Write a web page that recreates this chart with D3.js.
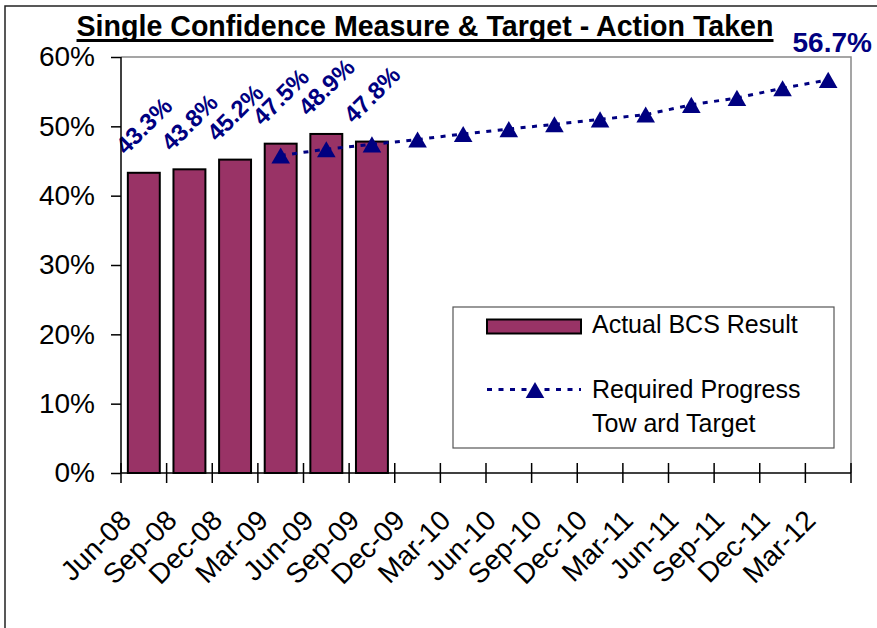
<!DOCTYPE html>
<html lang="en">
    <head>
        <meta charset="utf-8">
        <title>Single Confidence Measure &amp; Target</title>
        <script type="text/javascript" src="https://cdn.jsdelivr.net/npm/d3@7"></script>
        <style type="text/css">
            body { margin: 0; background: #fff; }
            svg text { font-family: Arial, "Liberation Sans", sans-serif; }
        </style>
    </head>
    <body>
        <script type="text/javascript">

        //Chart data
          var categories = ["Jun-08", "Sep-08", "Dec-08", "Mar-09", "Jun-09", "Sep-09", "Dec-09", "Mar-10",
                            "Jun-10", "Sep-10", "Dec-10", "Mar-11", "Jun-11", "Sep-11", "Dec-11", "Mar-12"];
          var actual = [43.3, 43.8, 45.2, 47.5, 48.9, 47.8];
          var required = [null, null, null, 45.8, 46.7, 47.4, 48.1, 48.9, 49.6, 50.3, 51.0, 51.7, 53.1, 54.1, 55.5, 56.7];
          var yTicks = [0, 10, 20, 30, 40, 50, 60];
          var seriesNames = ["Actual BCS Result", "Required Progress", "Tow ard Target"];
          var title = "Single Confidence Measure & Target - Action Taken";

          //Width and height
          var w = 877;
          var h = 628;
          var pLeft = 121, pRight = 851, pTop = 57, pBottom = 473;

          var barColor = "#993366";
          var navy = "#000080";

          var svg = d3.select("body")
                      .append("svg")
                      .attr("width", w)
                      .attr("height", h);

          //outer chart border
          svg.append("rect")
             .attr("x", 5)
             .attr("y", 6)
             .attr("width", w + 20)
             .attr("height", h + 20)
             .attr("fill", "#fff")
             .attr("stroke", "#222")
             .attr("stroke-width", 1.5);

          //Scales
          var xScale = d3.scaleBand()
                         .domain(categories)
                         .range([pLeft, pRight])
                         .paddingInner(0.3)
                         .paddingOuter(0.15);

          var yScale = d3.scaleLinear()
                         .domain([0, 60])
                         .range([pBottom, pTop]);

          var step = xScale.step();
          var edge = function(i) { return pLeft + i * step; };
          var center = function(c) { return xScale(c) + xScale.bandwidth() / 2; };

          //plot area frame (grey top / right)
          svg.append("path")
             .attr("d", "M" + pLeft + "," + pTop + "H" + pRight + "V" + pBottom)
             .attr("fill", "none")
             .attr("stroke", "#888")
             .attr("stroke-width", 1.5);

          //Bars
          svg.selectAll("rect.bar")
             .data(actual)
             .enter()
             .append("rect")
             .attr("class", "bar")
             .attr("x", function(d, i) { return xScale(categories[i]); })
             .attr("y", function(d) { return yScale(d); })
             .attr("width", xScale.bandwidth())
             .attr("height", function(d) { return yScale(0) - yScale(d); })
             .attr("fill", barColor)
             .attr("stroke", "#000")
             .attr("stroke-width", 2);

          //Bar labels, rotated
          svg.selectAll("text.barlabel")
             .data(actual)
             .enter()
             .append("text")
             .attr("class", "barlabel")
             .text(function(d) { return d.toFixed(1) + "%"; })
             .attr("transform", function(d, i) {
                 return "translate(" + center(categories[i]) + "," + (yScale(d) - 47) + ") rotate(-45)";
             })
             .attr("text-anchor", "middle")
             .attr("dy", "0.35em")
             .attr("font-size", "24px")
             .attr("font-weight", "bold")
             .attr("fill", navy);

          //Y axis
          var yAxis = d3.axisLeft(yScale)
                        .tickValues(yTicks)
                        .tickFormat(function(d) { return d + "%"; })
                        .tickSize(10)
                        .tickPadding(16);

          var gy = svg.append("g")
                      .attr("transform", "translate(" + pLeft + ",0)")
                      .call(yAxis);
          gy.select(".domain").remove();
          gy.selectAll("line").attr("stroke", "#000").attr("stroke-width", 1.5);
          gy.selectAll("text")
            .attr("font-size", "28px")
            .attr("font-family", "Arial, 'Liberation Sans', sans-serif")
            .attr("fill", "#000");

          svg.append("line")
             .attr("x1", pLeft).attr("x2", pLeft)
             .attr("y1", pTop).attr("y2", pBottom)
             .attr("stroke", "#000")
             .attr("stroke-width", 1.5);

          //X axis line and crossing ticks at category edges
          svg.append("line")
             .attr("x1", pLeft).attr("x2", pRight)
             .attr("y1", pBottom).attr("y2", pBottom)
             .attr("stroke", "#000")
             .attr("stroke-width", 1.5);

          svg.selectAll("line.xtick")
             .data(d3.range(categories.length + 1))
             .enter()
             .append("line")
             .attr("class", "xtick")
             .attr("x1", function(i) { return edge(i); })
             .attr("x2", function(i) { return edge(i); })
             .attr("y1", pBottom - 10)
             .attr("y2", pBottom + 10)
             .attr("stroke", "#000")
             .attr("stroke-width", 1.5);

          svg.selectAll("text.xlabel")
             .data(categories)
             .enter()
             .append("text")
             .attr("class", "xlabel")
             .text(function(d) { return d; })
             .attr("transform", function(d) {
                 return "translate(" + (center(d) - 11) + "," + (pBottom + 49) + ") rotate(-45)";
             })
             .attr("text-anchor", "end")
             .attr("font-size", "28px")
             .attr("fill", "#000");

          //Required progress line
          var line = d3.line()
                       .defined(function(d) { return d != null; })
                       .x(function(d, i) { return center(categories[i]); })
                       .y(function(d) { return yScale(d); });

          svg.append("path")
             .datum(required)
             .attr("d", line)
             .attr("fill", "none")
             .attr("stroke", navy)
             .attr("stroke-width", 3)
             .attr("stroke-dasharray", "5,6.5");

          var triSize = 150;
          var tri = d3.symbol().type(d3.symbolTriangle).size(triSize);
          var triH = Math.sqrt(triSize / (Math.sqrt(3) / 4)) * Math.sqrt(3) / 2;

          var pts = required.map(function(d, i) { return {c: categories[i], v: d}; })
                            .filter(function(d) { return d.v != null; });

          svg.selectAll("path.marker")
             .data(pts)
             .enter()
             .append("path")
             .attr("class", "marker")
             .attr("d", tri)
             .attr("transform", function(d) {
                 return "translate(" + center(d.c) + "," + (yScale(d.v) + triH / 6) + ")";
             })
             .attr("fill", navy);

          //label of the final target point
          var last = pts[pts.length - 1];
          svg.append("text")
             .text(last.v.toFixed(1) + "%")
             .attr("x", center(last.c) + 4)
             .attr("y", yScale(last.v) - 28)
             .attr("text-anchor", "middle")
             .attr("font-size", "28px")
             .attr("font-weight", "bold")
             .attr("fill", navy);

          //Title with underline
          var t = svg.append("text")
                     .text(title)
                     .attr("x", 425)
                     .attr("y", 36)
                     .attr("text-anchor", "middle")
                     .attr("font-size", "28.6px")
                     .attr("font-weight", "bold")
                     .attr("fill", "#000");
          var tb = t.node().getBBox();
          svg.append("line")
             .attr("x1", tb.x).attr("x2", tb.x + tb.width)
             .attr("y1", 40.5).attr("y2", 40.5)
             .attr("stroke", "#000")
             .attr("stroke-width", 2.8);

          //Legend
          var lg = svg.append("g");
          lg.append("rect")
            .attr("x", 453)
            .attr("y", 307)
            .attr("width", 381)
            .attr("height", 141)
            .attr("fill", "#fff")
            .attr("stroke", "#555")
            .attr("stroke-width", 1.2);

          lg.append("rect")
            .attr("x", 487)
            .attr("y", 319.5)
            .attr("width", 94)
            .attr("height", 14)
            .attr("fill", barColor)
            .attr("stroke", "#000")
            .attr("stroke-width", 2);

          lg.append("line")
            .attr("x1", 487).attr("x2", 581)
            .attr("y1", 389.5).attr("y2", 389.5)
            .attr("stroke", navy)
            .attr("stroke-width", 3)
            .attr("stroke-dasharray", "5,6.5");

          lg.append("path")
            .attr("d", tri)
            .attr("transform", "translate(535," + (390 + triH / 6) + ")")
            .attr("fill", navy);

          lg.selectAll("text")
            .data(seriesNames)
            .enter()
            .append("text")
            .text(function(d) { return d; })
            .attr("x", 592)
            .attr("y", function(d, i) { return [333, 398, 432][i]; })
            .attr("font-size", "25px")
            .attr("fill", "#000");

        </script>
    </body>
</html>
